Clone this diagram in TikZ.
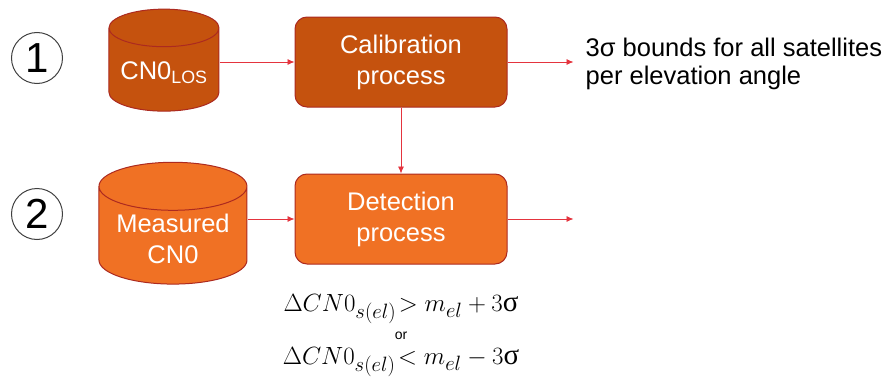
\documentclass[tikz,border=0pt]{standalone}
\usepackage{amsmath}
\usepackage{fontspec}
\setmainfont{Liberation Sans}
\newfontfamily\greekserif{Liberation Serif}
\usetikzlibrary{positioning,shapes.geometric,arrows.meta}

\definecolor{caldark}{RGB}{197,82,14}
\definecolor{detlight}{RGB}{240,113,36}
\definecolor{edgered}{RGB}{172,42,32}
\definecolor{linkred}{RGB}{228,52,62}

\begin{document}
\begin{tikzpicture}[x=1pt, y=-1pt,
box/.style={rectangle, rounded corners=12pt, draw=edgered, line width=1pt, minimum width=212pt, minimum height=90pt, align=center, text=white, font=\fontsize{25.5}{31}\selectfont},
drum/.style={cylinder, shape border rotate=90, aspect=0.4, draw=edgered, line width=1pt, align=center, text=white, font=\fontsize{25.5}{31}\selectfont},
num/.style={circle, draw=black!75, line width=1pt, minimum size=51pt, inner sep=0pt, font=\fontsize{42}{42}\selectfont},
link/.style={-{Latex[length=7pt,width=6pt]}, draw=linkred, line width=0.8pt},
formula/.style={inner sep=0pt, font=\fontsize{29}{32}\selectfont}
]
\useasboundingbox (0,0) rectangle (887,380);
%Nodes
\node[box, fill=caldark]     (cal)  at (401,62)             {Calibration\\process};
\node[box, fill=detlight]    (det)  [below=66pt of cal]     {Detection\\process};
\node[drum, fill=caldark, minimum width=110pt, minimum height=102pt]  (los)  [left=75pt of cal, yshift=-11pt]  {CN0\textsubscript{LOS}};
\node[drum, fill=detlight, minimum width=148pt, minimum height=101pt] (meas) [left=47pt of det, yshift=-20pt]  {Measured\\CN0};
\node[num]                   (one)  at (37,58)              {1};
\node[num]                   (two)  at (37,214)             {2};
\coordinate[right=66pt of cal] (calend);
\coordinate[right=66pt of det] (detend);
\node[inner sep=0pt, align=left, font=\fontsize{25.5}{28}\selectfont] (bounds) [right=12pt of calend, yshift=-2pt] {3σ bounds for all satellites\\per elevation angle};
\node[inner sep=0pt, font=\fontsize{14}{14}\selectfont] (or) [below=67pt of det] {or};
\node[formula] (upper) [above=8pt of or]     {$\Delta CN0_{s(el)}\!> m_{el} + 3\text{\greekserif σ}$};
\node[formula] (lower) [below=8pt of or]     {$\Delta CN0_{s(el)}\!< m_{el} - 3\text{\greekserif σ}$};
%Lines
\draw[link] (los.east |- cal) -- (cal);
\draw[link] (meas.east |- det) -- (det);
\draw[link] (cal) -- (det);
\draw[link] (cal) -- (calend);
\draw[link] (det) -- (detend);
\end{tikzpicture}
\end{document}
